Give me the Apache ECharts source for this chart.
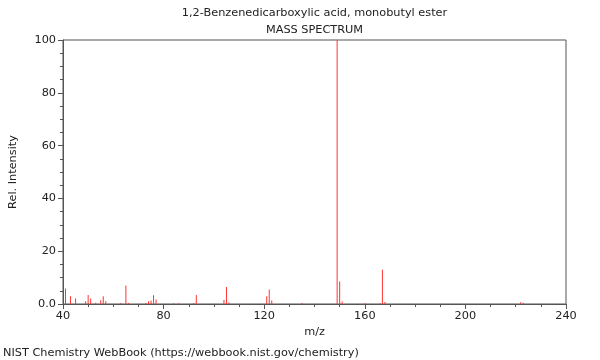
<!DOCTYPE html>
<html>
<head>
<meta charset="utf-8">
<script src="https://cdn.jsdelivr.net/npm/echarts@6/dist/echarts.min.js"></script>
<style>html,body{margin:0;padding:0;background:#fff}#c{width:600px;height:360px}</style>
</head>
<body>
<div id="c"></div>
<script>
const titleText = "1,2-Benzenedicarboxylic acid, monobutyl ester";
const subtitleText = "MASS SPECTRUM";
const footerText = "NIST Chemistry WebBook (https://webbook.nist.gov/chemistry)";
const mzValues = [41, 43, 45, 49, 50, 51, 53, 55, 56, 57, 63, 65, 66, 73, 74, 75, 76, 77, 84, 86, 92, 93, 104, 105, 106, 121, 122, 123, 135, 149, 150, 151, 160, 166, 167, 168, 222, 223];
const intensities = [5.9, 2.9, 2.1, 1.0, 3.4, 2.1, 0.5, 1.4, 2.9, 1.0, 0.4, 7.0, 0.4, 0.4, 1.0, 1.3, 3.3, 1.7, 0.3, 0.3, 0.4, 3.4, 1.5, 6.4, 0.6, 2.9, 5.5, 1.3, 0.4, 100, 8.5, 0.9, 0.3, 0.3, 13.0, 0.8, 0.7, 0.5];
const xTicks = [40, 80, 120, 160, 200, 240];
const yTicks = [0, 20, 40, 60, 80, 100];

const data = mzValues.map((m, i) => [m, intensities[i]]);
const font = 'DejaVu Sans';
const txt = { fontFamily: font, fontSize: 11.3, fill: '#222' };
const chart = echarts.init(document.getElementById('c'));
chart.setOption({
  animation: false,
  backgroundColor: '#fff',
  textStyle: { fontFamily: font },
  graphic: [
    { type: 'text', x: 314.5, y: 13, style: Object.assign({ text: titleText, textAlign: 'center', textVerticalAlign: 'middle' }, txt) },
    { type: 'text', x: 314.5, y: 30, style: Object.assign({ text: subtitleText, textAlign: 'center', textVerticalAlign: 'middle' }, txt) },
    { type: 'text', x: 3, y: 353, style: Object.assign({ text: footerText, textAlign: 'left', textVerticalAlign: 'middle' }, txt) }
  ],
  grid: { left: 62, right: 34, top: 40, bottom: 56, show: true, borderColor: '#555', borderWidth: 1, backgroundColor: 'transparent' },
  xAxis: {
    type: 'value', min: xTicks[0], max: xTicks[xTicks.length - 1], interval: 40,
    name: 'm/z', nameLocation: 'middle', nameGap: 23,
    nameTextStyle: { fontFamily: font, fontSize: 11.3, color: '#222' },
    axisLine: { onZero: false, lineStyle: { color: '#555' } },
    axisTick: { length: 5, lineStyle: { color: '#555' } },
    minorTick: { show: true, splitNumber: 4, length: 3, lineStyle: { color: '#555' } },
    axisLabel: { fontFamily: font, fontSize: 11.3, color: '#222', margin: 7 },
    splitLine: { show: false }
  },
  yAxis: {
    type: 'value', min: yTicks[0], max: yTicks[yTicks.length - 1], interval: 20,
    name: 'Rel. Intensity', nameLocation: 'middle', nameGap: 44, nameRotate: 90,
    nameTextStyle: { fontFamily: font, fontSize: 11.3, color: '#222' },
    axisLine: { show: true, lineStyle: { color: '#555' } },
    axisTick: { show: true, length: 5, lineStyle: { color: '#555' } },
    minorTick: { show: true, splitNumber: 4, length: 3, lineStyle: { color: '#555' } },
    axisLabel: { fontFamily: font, fontSize: 11.3, color: '#222', margin: 7, formatter: v => v === 0 ? '0.0' : String(v) },
    splitLine: { show: false }
  },
  series: [{
    type: 'bar', data: data, barWidth: 1,
    itemStyle: { color: '#ff3333' }, silent: true
  }]
});
</script>
</body>
</html>
